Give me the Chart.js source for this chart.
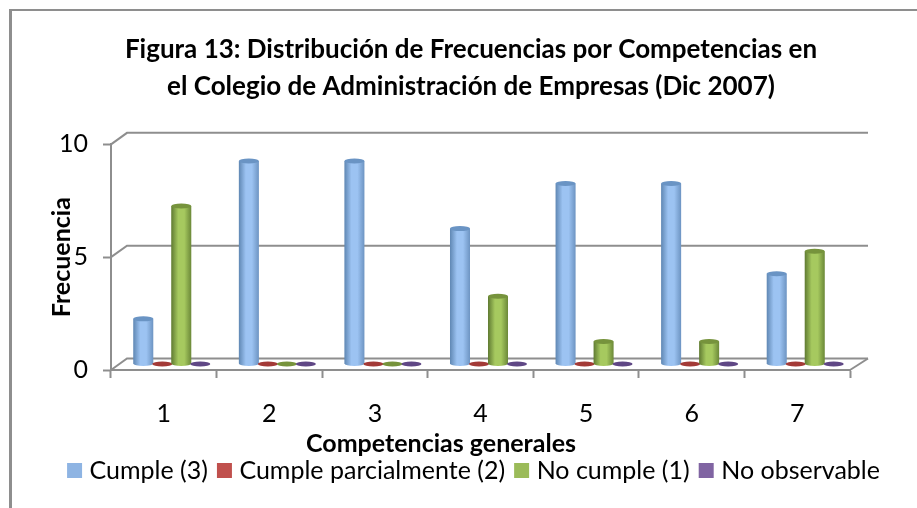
<!DOCTYPE html>
<html lang="es">
<head>
<meta charset="utf-8">
<style>
html, body { margin: 0; padding: 0; background: #fff; }
#wrap { position: relative; width: 917px; height: 508px; }
</style>
</head>
<body>
<div id="wrap"><canvas id="chart" width="917" height="508"></canvas></div>
<script src="https://cdn.jsdelivr.net/npm/chart.js@4"></script>
<script>
const categories = ['1', '2', '3', '4', '5', '6', '7'];
const cumple = [2, 9, 9, 6, 8, 8, 4];
const parcial = [0, 0, 0, 0, 0, 0, 0];
const noCumple = [7, 0, 0, 3, 1, 1, 5];
const noObservable = [0, 0, 0, 0, 0, 0, 0];

const GRAY = '#8e8e8e';
const FONT = 'Lato, "Open Sans", sans-serif';
const DEPTH = { x: 8, y: -6 };      // bars stand mid-way in the floor
const WALL = { x: 16, y: -11.5 };   // back wall offset

// edge, middle, other edge and cap tones of each cylinder
const SHADES = {
    '#8eb4e3': ['#5f87b3', '#9cc3f2', '#6d94c2', '#6a94c4'],
    '#c0504d': ['#8c2f2c', '#b8423f', '#8c2f2c', '#a33a37'],
    '#9bbb59': ['#5f7a32', '#a6c95f', '#6b8838', '#76933c'],
    '#8064a2': ['#4e3770', '#6f4f96', '#4e3770', '#5f4785'],
};

const wallPlugin = {
    id: 'wall',
    beforeDatasetsDraw(chart) {
        const { ctx, chartArea: a, scales: { y } } = chart;
        ctx.save();
        ctx.strokeStyle = GRAY;
        ctx.lineWidth = 2;
        y.ticks.forEach(t => {
            const py = y.getPixelForValue(t.value);
            ctx.beginPath();
            ctx.moveTo(a.left, py);
            ctx.lineTo(a.left + WALL.x, py + WALL.y);
            ctx.lineTo(a.right + WALL.x + 2, py + WALL.y);
            ctx.stroke();
        });
        ctx.beginPath();
        ctx.moveTo(a.right, a.bottom);
        ctx.lineTo(a.right + WALL.x + 2, a.bottom + WALL.y);
        ctx.stroke();
        ctx.restore();
        // the flat bars move back with the cylinders painted over them
        ctx.save();
        ctx.translate(DEPTH.x, DEPTH.y);
    },
    afterDatasetsDraw(chart) {
        const ctx = chart.ctx;
        ctx.restore();
        chart.data.datasets.forEach((ds, di) => {
            const tones = SHADES[ds.backgroundColor];
            chart.getDatasetMeta(di).data.forEach(bar => {
                const cx = bar.x + DEPTH.x;
                const top = bar.y + DEPTH.y;
                const base = bar.base + DEPTH.y;
                const rx = bar.width / 2 + 0.5;
                const ry = 2.5;
                ctx.save();
                if (base - top > 1) {
                    const g = ctx.createLinearGradient(cx - rx, 0, cx + rx, 0);
                    g.addColorStop(0, tones[0]);
                    g.addColorStop(0.35, tones[1]);
                    g.addColorStop(0.65, tones[1]);
                    g.addColorStop(1, tones[2]);
                    ctx.fillStyle = g;
                    ctx.beginPath();
                    ctx.moveTo(cx - rx, top);
                    ctx.lineTo(cx - rx, base);
                    ctx.ellipse(cx, base, rx, ry, 0, Math.PI, 0, true);
                    ctx.lineTo(cx + rx, top);
                    ctx.closePath();
                    ctx.fill();
                }
                ctx.fillStyle = tones[3];
                ctx.beginPath();
                ctx.ellipse(cx, top, rx, ry, 0, 0, Math.PI * 2);
                ctx.fill();
                ctx.restore();
            });
        });
    },
};

// white page and the frame lines at the top and left
const framePlugin = {
    id: 'frame',
    beforeDraw(chart) {
        const ctx = chart.ctx;
        ctx.save();
        ctx.fillStyle = '#fff';
        ctx.fillRect(0, 0, chart.width, chart.height);
        ctx.fillStyle = GRAY;
        ctx.fillRect(9, 9, chart.width - 9, 2);
        ctx.fillRect(9, 9, 3, chart.height - 9);
        ctx.restore();
    },
};

// title and legend are not centred on the canvas in the original
const shiftPlugin = {
    id: 'shift',
    afterLayout(chart) {
        chart.titleBlock.left += 46;
        chart.titleBlock.right += 46;
        chart.legend.left += 51;
        chart.legend.right += 51;
        chart.legend.top -= 15;
        chart.legend.bottom -= 15;
    },
};

const makeSet = (label, data, color) => ({
    label, data,
    backgroundColor: color,
    borderWidth: 0,
    categoryPercentage: 0.72,
    barPercentage: 1,
});

new Chart(document.getElementById('chart'), {
    type: 'bar',
    data: {
        labels: categories,
        datasets: [
            makeSet('Cumple (3)', cumple, '#8eb4e3'),
            makeSet('Cumple parcialmente (2)', parcial, '#c0504d'),
            makeSet('No cumple (1)', noCumple, '#9bbb59'),
            makeSet('No observable', noObservable, '#8064a2'),
        ],
    },
    options: {
        responsive: false,
        animation: false,
        layout: { padding: { left: 0, right: 67, top: 0, bottom: 0 } },
        plugins: {
            tooltip: { enabled: false },
            title: {
                display: true,
                text: [
                    'Figura 13: Distribución de Frecuencias por Competencias en',
                    'el Colegio de Administración de Empresas (Dic 2007)',
                ],
                color: '#000',
                font: { family: FONT, size: 26, weight: 'bold', lineHeight: 1.43 },
                padding: { top: 31, bottom: 39 },
            },
            legend: {
                position: 'bottom',
                labels: {
                    color: '#000',
                    font: { family: FONT, size: 25 },
                    boxWidth: 5,
                    boxHeight: 5,
                    padding: 14,
                    // thick outline makes the 15px swatch sit closer to its text
                    generateLabels(chart) {
                        return Chart.defaults.plugins.legend.labels.generateLabels(chart).map(item => ({
                            ...item,
                            lineWidth: 10,
                            strokeStyle: item.fillStyle,
                        }));
                    },
                },
            },
        },
        scales: {
            x: {
                offset: true,
                afterFit(scale) { scale.height = 89; },
                grid: { offset: true, drawOnChartArea: false, drawTicks: true, tickLength: 8, tickColor: GRAY, tickWidth: 2 },
                border: { color: GRAY, width: 2 },
                ticks: { color: '#000', font: { family: FONT, size: 25 }, padding: 21, maxRotation: 0 },
                title: {
                    display: true,
                    // trailing blanks pull the centred text left of the axis middle
                    text: 'Competencias generales' + '\u00a0'.repeat(13),
                    color: '#000',
                    font: { family: FONT, size: 25, weight: 'bold' },
                    padding: { top: -4, bottom: 0 },
                },
            },
            y: {
                min: 0,
                max: 10,
                afterFit(scale) { scale.width = 111; },
                ticks: { stepSize: 5, color: '#000', font: { family: FONT, size: 25 }, padding: 15 },
                grid: { drawOnChartArea: false, drawTicks: true, tickLength: 8, tickColor: GRAY, tickWidth: 2 },
                border: { color: GRAY, width: 2 },
                title: {
                    display: true,
                    text: 'Frecuencia',
                    color: '#000',
                    font: { family: FONT, size: 25, weight: 'bold' },
                    padding: { top: 47, bottom: 0 },
                },
            },
        },
    },
    plugins: [framePlugin, wallPlugin, shiftPlugin],
});
</script>
</body>
</html>
